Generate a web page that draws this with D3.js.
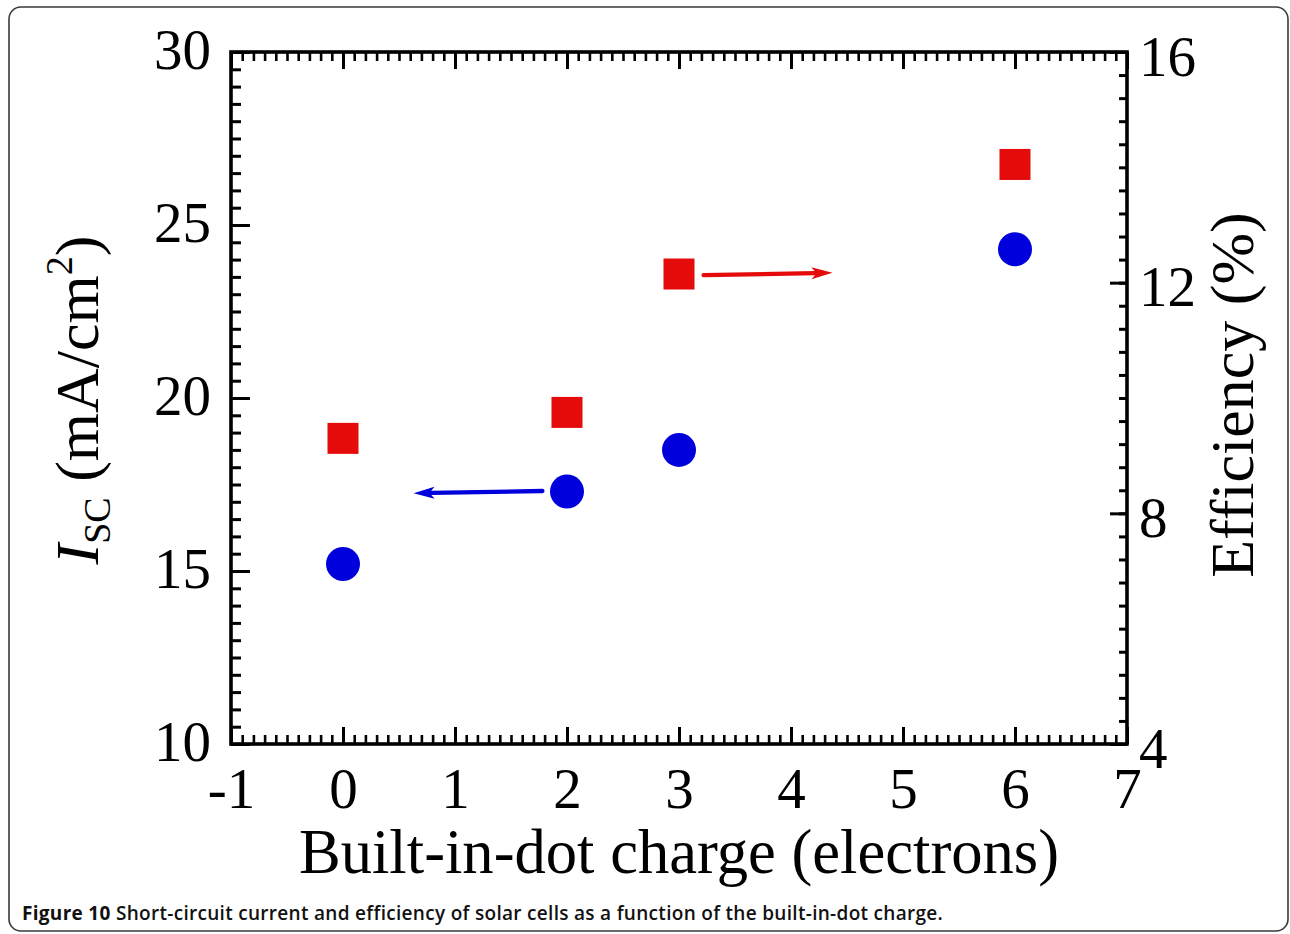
<!DOCTYPE html>
<html>
<head>
<meta charset="utf-8">
<script src="https://cdn.jsdelivr.net/npm/d3@7"></script>
<style>
  html, body { margin: 0; padding: 0; background: #fff; }
  svg { display: block; }
</style>
</head>
<body>
<svg id="chart" width="1290" height="934"></svg>
<script>
// Built-in-dot charge (electrons) for each device
const charges = [0, 2, 3, 6];
// Short-circuit current density, mA/cm^2 (left axis)
const iscValues = [15.2, 17.3, 18.5, 24.3];
// Conversion efficiency, % (right axis)
const effValues = [9.3, 9.75, 12.15, 14.05];

// Axis tick values
const xTicks = [-1, 0, 1, 2, 3, 4, 5, 6, 7];
const leftTicks = [10, 15, 20, 25, 30];
const rightTicks = [4, 8, 12, 16];

// Arrows pointing each series to its axis: [x0, y0, x1, y1] in data units
const iscArrow = [1.78, 17.31, 0.63, 17.25];
const effArrow = [3.22, 12.13, 4.37, 12.17];

const caption = { label: "Figure 10", text: " Short-circuit current and efficiency of solar cells as a function of the built-in-dot charge." };

const svg = d3.select("#chart");
const plot = { left: 231, right: 1127, top: 52, bottom: 744 };

const x = d3.scaleLinear().domain([-1, 7]).range([plot.left, plot.right]);
const yL = d3.scaleLinear().domain([10, 30]).range([plot.bottom, plot.top]);
const yR = d3.scaleLinear().domain([4, 16]).range([plot.bottom, plot.top]);

const serif = "'Liberation Serif', 'Times New Roman', serif";
const red = "#e50b0b";
const blue = "#0000dc";

// outer rounded border
svg.append("rect")
  .attr("x", 9).attr("y", 7).attr("width", 1279).attr("height", 924)
  .attr("rx", 12).attr("ry", 12)
  .attr("fill", "none").attr("stroke", "#3a3a3a").attr("stroke-width", 1.6);

function styleTicks(g, width) {
  g.select(".domain").remove();
  g.selectAll(".tick line").attr("stroke", "#000").attr("stroke-width", width);
}

// minor ticks (inward)
const xMinor = d3.range(-1, 7.001, 0.1).map(v => +v.toFixed(2));
const lMinor = d3.range(10, 30.001, 0.5);
const rMinor = d3.range(4, 16.001, 0.4).map(v => +v.toFixed(2));

svg.append("g").attr("transform", `translate(0,${plot.bottom})`)
  .call(d3.axisBottom(x).tickValues(xMinor).tickSize(-9).tickFormat(""))
  .call(g => styleTicks(g, 2.6));
svg.append("g").attr("transform", `translate(0,${plot.top})`)
  .call(d3.axisTop(x).tickValues(xMinor).tickSize(-9).tickFormat(""))
  .call(g => styleTicks(g, 2.6));
svg.append("g").attr("transform", `translate(${plot.left},0)`)
  .call(d3.axisLeft(yL).tickValues(lMinor).tickSize(-10).tickFormat(""))
  .call(g => styleTicks(g, 3));
svg.append("g").attr("transform", `translate(${plot.right},0)`)
  .call(d3.axisRight(yR).tickValues(rMinor).tickSize(-8).tickFormat(""))
  .call(g => styleTicks(g, 3));

// major ticks with labels
const gx = svg.append("g").attr("transform", `translate(0,${plot.bottom})`)
  .call(d3.axisBottom(x).tickValues(xTicks).tickSize(-17).tickFormat(d => d < 0 ? "-" + Math.abs(d) : d))
  .call(g => styleTicks(g, 3));
gx.selectAll(".tick text").attr("y", 64).attr("dy", 0)
  .attr("font-family", serif).attr("font-size", 57).attr("fill", "#000");

svg.append("g").attr("transform", `translate(0,${plot.top})`)
  .call(d3.axisTop(x).tickValues(xTicks).tickSize(-17).tickFormat(""))
  .call(g => styleTicks(g, 3));

const gl = svg.append("g").attr("transform", `translate(${plot.left},0)`)
  .call(d3.axisLeft(yL).tickValues(leftTicks).tickSize(-19))
  .call(g => styleTicks(g, 3));
gl.selectAll(".tick text").attr("x", -20).attr("dy", 16)
  .attr("font-family", serif).attr("font-size", 57).attr("fill", "#000");

const gr = svg.append("g").attr("transform", `translate(${plot.right},0)`)
  .call(d3.axisRight(yR).tickValues(rightTicks).tickSize(-17))
  .call(g => styleTicks(g, 3));
gr.selectAll(".tick text").attr("x", 12).attr("dy", 23)
  .attr("font-family", serif).attr("font-size", 57).attr("fill", "#000");

// plot frame
svg.append("rect")
  .attr("x", plot.left).attr("y", plot.top)
  .attr("width", plot.right - plot.left).attr("height", plot.bottom - plot.top)
  .attr("fill", "none").attr("stroke", "#000").attr("stroke-width", 3.6);

// arrows
function arrow(coords, yScale, color) {
  const [x0, y0, x1, y1] = coords;
  const p0 = [x(x0), yScale(y0)], p1 = [x(x1), yScale(y1)];
  const ang = Math.atan2(p1[1] - p0[1], p1[0] - p0[0]);
  const headLen = 21, headHalf = 6;
  const base = [p1[0] - headLen * Math.cos(ang), p1[1] - headLen * Math.sin(ang)];
  svg.append("line")
    .attr("x1", p0[0]).attr("y1", p0[1]).attr("x2", base[0] + 4 * Math.cos(ang)).attr("y2", base[1] + 4 * Math.sin(ang))
    .attr("stroke", color).attr("stroke-width", 4.4).attr("stroke-linecap", "round");
  const nx = -Math.sin(ang), ny = Math.cos(ang);
  svg.append("path")
    .attr("d", `M${p1[0]},${p1[1]} L${base[0] + nx * headHalf},${base[1] + ny * headHalf} L${base[0] + 5 * Math.cos(ang)},${base[1] + 5 * Math.sin(ang)} L${base[0] - nx * headHalf},${base[1] - ny * headHalf} Z`)
    .attr("fill", color);
}
arrow(iscArrow, yL, blue);
arrow(effArrow, yR, red);

// efficiency: red squares
const sq = 31;
svg.append("g").selectAll("rect")
  .data(charges.map((c, i) => ({ c, v: effValues[i] })))
  .join("rect")
  .attr("x", d => x(d.c) - sq / 2).attr("y", d => yR(d.v) - sq / 2)
  .attr("width", sq).attr("height", sq).attr("fill", red);

// short-circuit current: blue circles
svg.append("g").selectAll("circle")
  .data(charges.map((c, i) => ({ c, v: iscValues[i] })))
  .join("circle")
  .attr("cx", d => x(d.c)).attr("cy", d => yL(d.v))
  .attr("r", 17).attr("fill", blue);

// x-axis title
svg.append("text")
  .attr("x", (plot.left + plot.right) / 2).attr("y", 873)
  .attr("text-anchor", "middle")
  .attr("font-family", serif).attr("font-size", 62.6).attr("fill", "#000")
  .text("Built-in-dot charge (electrons)");

// left axis title
const lt = svg.append("text")
  .attr("transform", "translate(98,400) rotate(-90)")
  .attr("text-anchor", "middle")
  .attr("font-family", serif).attr("font-size", 62).attr("fill", "#000");
lt.append("tspan").attr("font-style", "italic").text("I");
lt.append("tspan").attr("font-size", 38).attr("dy", 12).text("SC");
lt.append("tspan").attr("dy", -12).text(" (mA/cm");
lt.append("tspan").attr("font-size", 38).attr("dy", -26).text("2");
lt.append("tspan").attr("dy", 26).text(")");

// right axis title
svg.append("text")
  .attr("transform", "translate(1253,395) rotate(-90)")
  .attr("text-anchor", "middle")
  .attr("font-family", serif).attr("font-size", 62).attr("fill", "#000")
  .text("Efficiency (%)");

// caption
const cap = svg.append("text")
  .attr("x", 22).attr("y", 920)
  .attr("font-family", "'Open Sans', sans-serif").attr("font-size", 19)
  .attr("letter-spacing", 0.3).attr("fill", "#111");
cap.append("tspan").attr("font-weight", "bold").text(caption.label);
cap.append("tspan").attr("font-weight", 600).text(caption.text);
</script>
</body>
</html>
